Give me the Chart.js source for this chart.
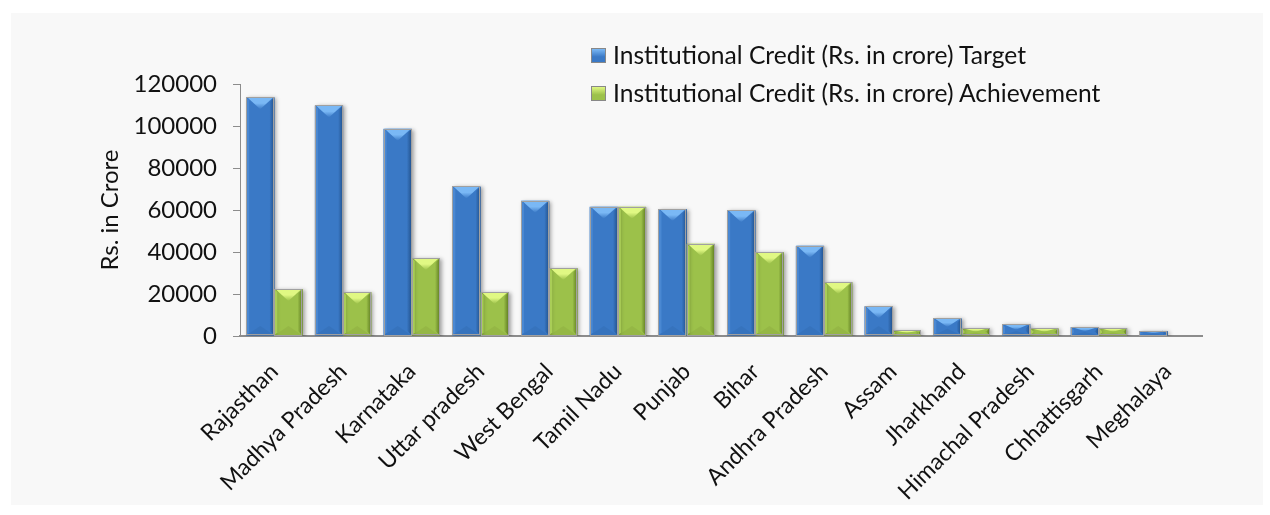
<!DOCTYPE html>
<html>
<head>
<meta charset="utf-8">
<script src="https://cdn.jsdelivr.net/npm/chart.js@4.4.0/dist/chart.umd.min.js"></script>
<style>
  html,body{margin:0;padding:0;background:#fff;width:1270px;height:515px;overflow:hidden;font-family:Lato,"Open Sans",sans-serif;}
  #panel{position:absolute;left:11px;top:13px;width:1252px;height:492px;background:#f8f8f8;}
  #wrap{position:absolute;left:0;top:0;width:1270px;height:515px;}
  #legend{position:absolute;left:591px;top:39px;font-family:Lato,"Open Sans",sans-serif;font-size:24.6px;color:#111;}
  .li{position:relative;height:38px;line-height:32px;padding-left:22px;white-space:nowrap;}
  .sw{position:absolute;left:0;top:9px;width:15px;height:15px;box-sizing:border-box;border:1px solid #888;}
</style>
</head>
<body>
<div id="panel"></div>
<div id="wrap"><canvas id="c" width="1270" height="515"></canvas></div>
<div id="legend"></div>
<script>
const categories = ["Rajasthan","Madhya Pradesh","Karnataka","Uttar pradesh","West Bengal","Tamil Nadu","Punjab","Bihar","Andhra Pradesh","Assam","Jharkhand","Himachal Pradesh","Chhattisgarh","Meghalaya"];
const targetValues = [113700,109800,98700,71200,64400,61600,60500,59900,43000,14200,8400,5700,4300,2400];
const achievementValues = [22400,20900,37100,21000,32400,61600,43900,40000,25700,2700,3800,3700,3800,0];
const seriesNames = ["Institutional Credit (Rs. in crore) Target","Institutional Credit (Rs. in crore) Achievement"];
const yTicks = [0,20000,40000,60000,80000,100000,120000];

const FONT = 'Lato, "Open Sans", sans-serif';
const palettes = [
  {body:'#3a79c6', light:'#7ab8f5', dark:'#21508a', left:'#4a88d2', bottom:'#2e66a8'},
  {body:'#9cc14a', light:'#e0f883', dark:'#5d7a20', left:'#a9cd57', bottom:'#84a33a'}
];

const bevelPlugin = {
  id:'bevel',
  beforeDatasetsDraw(chart){
    const ctx = chart.ctx;
    ctx.save();
    ctx.shadowColor = 'rgba(0,0,0,0.35)';
    ctx.shadowBlur = 4;
    ctx.shadowOffsetX = 2;
    ctx.shadowOffsetY = 1;
  },
  afterDatasetsDraw(chart){
    const ctx = chart.ctx;
    ctx.restore();
    chart.data.datasets.forEach((ds,di)=>{
      const meta = chart.getDatasetMeta(di);
      const p = palettes[di];
      meta.data.forEach(el=>{
        const {x,y,base,width} = el.getProps(['x','y','base','width'],true);
        const L = x - width/2, R = x + width/2, T = y, B = base;
        const h = B - T;
        if (h < 0.5) return;
        const b = Math.min(12, h/2);
        ctx.save();
        ctx.fillStyle = p.left;
        ctx.beginPath(); ctx.moveTo(L,T); ctx.lineTo(L+3,T+3); ctx.lineTo(L+3,B-3); ctx.lineTo(L,B); ctx.closePath(); ctx.fill();
        let g = ctx.createLinearGradient(R-5,0,R,0);
        g.addColorStop(0,p.body); g.addColorStop(1,p.dark);
        ctx.fillStyle = g;
        ctx.beginPath(); ctx.moveTo(R,T); ctx.lineTo(R-5,T+5); ctx.lineTo(R-5,B-5); ctx.lineTo(R,B); ctx.closePath(); ctx.fill();
        ctx.fillStyle = p.bottom;
        ctx.globalAlpha = 0.3;
        ctx.beginPath(); ctx.moveTo(L,B); ctx.lineTo(x,B-b*0.8); ctx.lineTo(R,B); ctx.closePath(); ctx.fill();
        ctx.globalAlpha = 1;
        g = ctx.createLinearGradient(0,T,0,T+b);
        g.addColorStop(0,p.light); g.addColorStop(0.5,p.light); g.addColorStop(1,p.body);
        ctx.fillStyle = g;
        ctx.beginPath(); ctx.moveTo(L+1,T); ctx.lineTo(R-1,T); ctx.lineTo(x,T+b); ctx.closePath(); ctx.fill();
        ctx.strokeStyle = '#a0a0a0';
        ctx.lineWidth = 1;
        ctx.strokeRect(Math.round(L)+0.5, Math.round(T)+0.5, Math.round(R-L)-1, Math.round(B-T)-1);
        ctx.restore();
      });
    });
  }
};

const ctx = document.getElementById('c').getContext('2d');
new Chart(ctx, {
  type:'bar',
  data:{
    labels: categories,
    datasets:[
      {label:seriesNames[0], data:targetValues, backgroundColor:palettes[0].body, borderWidth:0},
      {label:seriesNames[1], data:achievementValues, backgroundColor:palettes[1].body, borderWidth:0}
    ]
  },
  options:{
    responsive:false,
    animation:false,
    devicePixelRatio:1,
    layout:{padding:{left:96,top:84,right:68,bottom:0}},
    datasets:{bar:{categoryPercentage:0.82,barPercentage:1.0}},
    plugins:{legend:{display:false},tooltip:{enabled:false}},
    scales:{
      x:{
        grid:{display:false, drawTicks:false},
        border:{display:true,color:'#8c8c8c',width:2},
        ticks:{autoSkip:false,maxRotation:45,minRotation:45,padding:22,color:'#111',font:{family:FONT,size:23}},
        afterFit(s){ s.height = 179; }
      },
      y:{
        min:0,max:120000,
        afterBuildTicks(s){ s.ticks = yTicks.map(v=>({value:v})); },
        grid:{display:true,drawOnChartArea:false,drawTicks:true,tickLength:7,color:'#8c8c8c'},
        border:{display:true,color:'#8c8c8c',width:1},
        ticks:{padding:16,color:'#111',font:{family:FONT,size:24},callback:v=>String(v)},
        title:{display:true,text:'Rs. in Crore',color:'#111',font:{family:FONT,size:24},padding:{top:0,bottom:4}},
        afterFit(s){ s.width = 144; }
      }
    }
  },
  plugins:[bevelPlugin]
});

const lg = document.getElementById('legend');
seriesNames.forEach((n,i)=>{
  const d = document.createElement('div'); d.className='li';
  const sw = document.createElement('span'); sw.className='sw';
  sw.style.background = `linear-gradient(${palettes[i].light}, ${palettes[i].body} 60%)`;
  d.appendChild(sw);
  d.appendChild(document.createTextNode(n));
  lg.appendChild(d);
});
</script>
</body>
</html>
